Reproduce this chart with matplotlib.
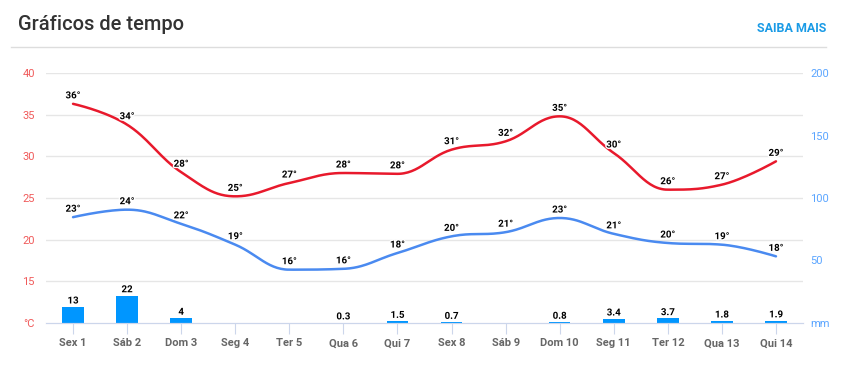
import matplotlib.pyplot as plt
import matplotlib.patheffects as pe
import numpy as np

plt.rcParams['font.family'] = ['Roboto', 'DejaVu Sans']

days = ["Sex 1", "Sáb 2", "Dom 3", "Seg 4", "Ter 5", "Qua 6", "Qui 7",
        "Sex 8", "Sáb 9", "Dom 10", "Seg 11", "Ter 12", "Qua 13", "Qui 14"]

# max / min temperatures (line values) and their labels
t_max = [36.3, 33.8, 28.1, 25.2, 26.8, 28.0, 27.9, 30.8, 31.8, 34.8, 30.4, 26.0, 26.6, 29.4]
t_min = [22.7, 23.6, 21.9, 19.4, 16.4, 16.5, 18.4, 20.4, 20.9, 22.6, 20.7, 19.6, 19.4, 18.0]
max_lbl = [36, 34, 28, 25, 27, 28, 28, 31, 32, 35, 30, 26, 27, 29]
min_lbl = [23, 24, 22, 19, 16, 16, 18, 20, 21, 23, 21, 20, 19, 18]

# rain (mm)
rain = [13, 22, 4, 0, 0, 0.3, 1.5, 0.7, 0, 0.8, 3.4, 3.7, 1.8, 1.9]
rain_lbl = ["13", "22", "4", "", "", "0.3", "1.5", "0.7", "", "0.8", "3.4", "3.7", "1.8", "1.9"]

RED = "#e8192c"
BLUE = "#4a8af0"
BAR = "#0096ff"


def spline(xs, ys, n=30):
    # highcharts style smoothing with bezier control points
    xs = np.asarray(xs, float)
    ys = np.asarray(ys, float)
    sm, den = 1.5, 2.5
    m = len(xs)
    lc = [None] * m
    rc = [None] * m
    for i in range(1, m - 1):
        lx = (sm * xs[i] + xs[i - 1]) / den
        ly = (sm * ys[i] + ys[i - 1]) / den
        rx = (sm * xs[i] + xs[i + 1]) / den
        ry = (sm * ys[i] + ys[i + 1]) / den
        corr = ((ry - ly) * (rx - xs[i])) / (rx - lx) + ys[i] - ry
        ly += corr
        ry += corr
        if ly > ys[i - 1] and ly > ys[i]:
            ly = max(ys[i - 1], ys[i]); ry = 2 * ys[i] - ly
        elif ly < ys[i - 1] and ly < ys[i]:
            ly = min(ys[i - 1], ys[i]); ry = 2 * ys[i] - ly
        if ry > ys[i + 1] and ry > ys[i]:
            ry = max(ys[i + 1], ys[i]); ly = 2 * ys[i] - ry
        elif ry < ys[i + 1] and ry < ys[i]:
            ry = min(ys[i + 1], ys[i]); ly = 2 * ys[i] - ry
        lc[i] = (lx, ly)
        rc[i] = (rx, ry)
    px, py = [], []
    t = np.linspace(0, 1, n)
    for i in range(m - 1):
        p0 = (xs[i], ys[i])
        p3 = (xs[i + 1], ys[i + 1])
        p1 = rc[i] if rc[i] is not None else p0
        p2 = lc[i + 1] if lc[i + 1] is not None else p3
        bx = (1 - t) ** 3 * p0[0] + 3 * (1 - t) ** 2 * t * p1[0] + 3 * (1 - t) * t ** 2 * p2[0] + t ** 3 * p3[0]
        by = (1 - t) ** 3 * p0[1] + 3 * (1 - t) ** 2 * t * p1[1] + 3 * (1 - t) * t ** 2 * p2[1] + t ** 3 * p3[1]
        px.extend(bx)
        py.extend(by)
    return px, py


fig = plt.figure(figsize=(8.45, 3.65), dpi=100)
fig.text(18 / 845, 1 - 25 / 365, "Gráficos de tempo", fontsize=14.5, color="#333333",
         fontweight="medium", ha="left", va="center")
fig.text(826 / 845, 1 - 28 / 365, "SAIBA MAIS", fontsize=9, color="#1a9be6",
         fontweight="bold", ha="right", va="center")
fig.add_artist(plt.Line2D([11 / 845, 826 / 845], [1 - 47 / 365, 1 - 47 / 365],
                          color="#dddddd", lw=1))

ax = fig.add_axes([46 / 845, 42 / 365, 757 / 845, 250 / 365])
ax2 = ax.twinx()
x = np.arange(len(days))

# bars on the rain axis
ax2.bar(x, rain, width=0.4, color=BAR, zorder=2)
for i, v in enumerate(rain):
    if rain_lbl[i]:
        ax2.text(i, v + 1.0, rain_lbl[i], ha="center", va="bottom", fontsize=7,
                 fontweight="bold", color="black",
                 path_effects=[pe.withStroke(linewidth=2, foreground="white")])
ax2.set_ylim(0, 200)
ax2.set_yticks([0, 50, 100, 150, 200])
ax2.set_yticklabels(["mm", "50", "100", "150", "200"])
ax2.tick_params(axis="y", length=0, pad=5, labelsize=8, labelcolor="#5aa5ff")

ax.set_zorder(ax2.get_zorder() + 1)
ax.patch.set_visible(False)

sx, sy = spline(x, t_max)
ax.plot(sx, sy, color=RED, lw=1.8, zorder=3, solid_capstyle="round")
sx, sy = spline(x, t_min)
ax.plot(sx, sy, color=BLUE, lw=1.8, zorder=3, solid_capstyle="round")

for i in range(len(days)):
    ax.annotate(f"{max_lbl[i]}°", (x[i], t_max[i]), xytext=(0, 2.5), textcoords="offset points",
                ha="center", va="bottom", fontsize=7, fontweight="bold", color="black", zorder=4,
                path_effects=[pe.withStroke(linewidth=2, foreground="white")])
    ax.annotate(f"{min_lbl[i]}°", (x[i], t_min[i]), xytext=(0, 2.5), textcoords="offset points",
                ha="center", va="bottom", fontsize=7, fontweight="bold", color="black", zorder=4,
                path_effects=[pe.withStroke(linewidth=2, foreground="white")])

ax.set_xlim(-0.5, len(days) - 0.5)
ax.set_ylim(10, 40)
ax.set_yticks([10, 15, 20, 25, 30, 35, 40])
ax.set_yticklabels(["°C", "15", "20", "25", "30", "35", "40"])
ax.tick_params(axis="y", length=0, pad=8, labelsize=8, labelcolor="#f05a5a")
ax.set_xticks(x)
ax.set_xticklabels(days, fontweight="bold", color="#666666", fontsize=8)
ax.tick_params(axis="x", length=8, color="#ccd6eb", pad=3)

for v in [15, 20, 25, 30, 35, 40]:
    ax.axhline(v, color="#e6e6e6", lw=1, zorder=0)

for a in (ax, ax2):
    for s in ["top", "left", "right"]:
        a.spines[s].set_visible(False)
    a.spines["bottom"].set_color("#ccd6eb")
ax2.tick_params(axis="x", length=0)

fig.savefig("out.png", dpi=100)
